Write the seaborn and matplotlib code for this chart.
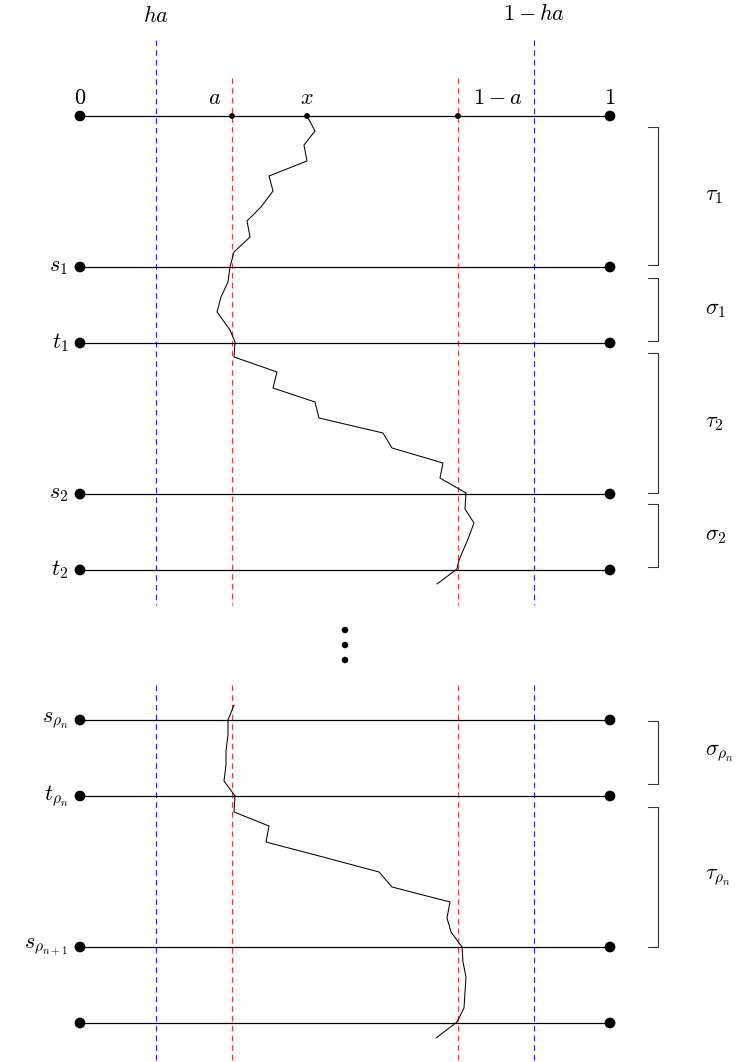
import seaborn as sns
import pandas as pd
import numpy as np
import matplotlib.pyplot as plt

# horizontal positions are in [0,1] units, vertical positions are rows (top = small)
a_val = 0.2868
ha_val = 0.1434
x_start = 0.4283

# levels of the horizontal segments
levels_top = [116, 267, 343, 494, 570]
levels_bot = [720, 796, 947, 1023]
left_labels_top = ['', r'$s_1$', r'$t_1$', r'$s_2$', r'$t_2$']
left_labels_bot = [r'$s_{\rho_n}$', r'$t_{\rho_n}$', r'$s_{\rho_{n+1}}$', '']

# random walk, first block
walk1_x = [0.4283, 0.4434, 0.4226, 0.4283, 0.3566, 0.3642, 0.3415, 0.3151, 0.3208,
           0.2906, 0.2830, 0.2792, 0.2660, 0.2585, 0.2830, 0.2925, 0.2906, 0.3717,
           0.3642, 0.4434, 0.4509, 0.5717, 0.5887, 0.6849, 0.6792, 0.7283, 0.7264,
           0.7434, 0.7321, 0.7151, 0.7113, 0.6736]
walk1_y = [116, 131, 145, 161, 176, 191, 207, 221, 237, 252, 267, 282, 297, 312,
           330, 342, 357, 372, 388, 402, 418, 433, 448, 463, 478, 493, 509, 523,
           539, 560, 569, 584]

# random walk, second block
walk2_x = [0.2906, 0.2792, 0.2792, 0.2755, 0.2755, 0.2717, 0.2925, 0.2906, 0.3566,
           0.3509, 0.4585, 0.5642, 0.5887, 0.6981, 0.6925, 0.7000, 0.7208, 0.7226,
           0.7283, 0.7245, 0.7113, 0.6717]
walk2_y = [705, 720, 735, 751, 765, 781, 796, 812, 826, 842, 857, 872, 887, 902,
           918, 932, 947, 962, 977, 1008, 1022, 1038]

# brackets on the right
bracket_lo = [127, 278, 353, 504, 721, 807]
bracket_hi = [265, 341, 493, 567, 784, 947]
bracket_labels = [r'$\tau_1$', r'$\sigma_1$', r'$\tau_2$', r'$\sigma_2$',
                  r'$\sigma_{\rho_n}$', r'$\tau_{\rho_n}$']

# top marks
top_pts = [0, a_val, x_start, 1 - a_val, 1]
top_texts = ['$0$', '$a$', '$x$', '$1-a$', '$1$']
top_text_x = [0, 0.253, 0.4283, 0.788, 1]

dot_rows = [630, 645, 660]

sns.set_theme(style="white")
plt.rcParams['mathtext.fontset'] = 'cm'
plt.rcParams['lines.scale_dashes'] = False
plt.rcParams['text.color'] = 'black'

fig = plt.figure(figsize=(7.44, 10.62), dpi=100)
ax = fig.add_axes([0, 0, 1, 1])
ax.set_xlim(-80 / 530, 664 / 530)
ax.set_ylim(1062, 0)
ax.axis('off')

fs = 16

# dashed verticals
dash = (0, (4.0, 3.0))
for lo, hi in [(40, 605), (685, 1062)]:
    ax.vlines([ha_val, 1 - ha_val], lo, hi, colors='#1a1aff', lw=0.8, linestyles=[dash])
for lo, hi in [(78, 605), (685, 1062)]:
    ax.vlines([a_val, 1 - a_val], lo, hi, colors='#ff3030', lw=0.8, linestyles=[dash])

# horizontal segments
levels = levels_top + levels_bot
ax.hlines(levels, 0, 1, colors='black', lw=0.9)
ends = pd.DataFrame({'x': [0] * len(levels) + [1] * len(levels), 'y': levels * 2})
sns.scatterplot(data=ends, x='x', y='y', s=60, color='black', edgecolor='none', ax=ax, zorder=5)
small = pd.DataFrame({'x': top_pts[1:4], 'y': [116] * 3})
sns.scatterplot(data=small, x='x', y='y', s=18, color='black', edgecolor='none', ax=ax, zorder=5)

# walks
sns.lineplot(x=walk1_x, y=walk1_y, sort=False, estimator=None, color='black', lw=0.75, ax=ax)
sns.lineplot(x=walk2_x, y=walk2_y, sort=False, estimator=None, color='black', lw=0.75, ax=ax)

# vertical dots
sns.scatterplot(x=[0.5] * 3, y=dot_rows, s=22, color='black', edgecolor='none', ax=ax)

# labels
for tx, t in zip(top_text_x, top_texts):
    ax.text(tx, 98, t, ha='center', va='center', fontsize=fs)
ax.text(ha_val, 16, '$ha$', ha='center', va='center', fontsize=fs)
ax.text(1 - ha_val, 14, '$1-ha$', ha='center', va='center', fontsize=fs)

for lv, lab in zip(levels, left_labels_top + left_labels_bot):
    ax.text(-0.022, lv, lab, ha='right', va='center', fontsize=fs)

bx = 578 / 530
for lo, hi, lab in zip(bracket_lo, bracket_hi, bracket_labels):
    ax.plot([bx - 0.019, bx, bx, bx - 0.019], [lo, lo, hi, hi], color='#333333', lw=0.8)
    ax.text(625 / 530, (lo + hi) / 2, lab, ha='left', va='center', fontsize=fs)

plt.savefig('out.png', dpi=100)
